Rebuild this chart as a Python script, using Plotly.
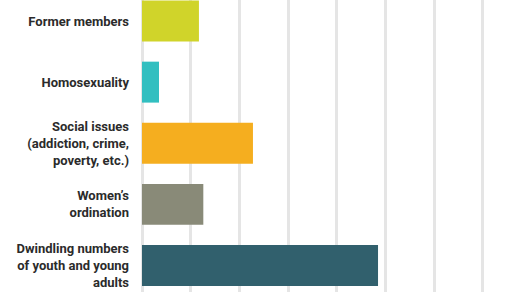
import plotly.graph_objects as go

categories = ["Former members", "Homosexuality",
              "Social issues<br>(addiction, crime,<br>poverty, etc.)",
              "Women’s<br>ordination",
              "Dwindling numbers<br>of youth and young<br>adults"]
values = [11.7, 3.5, 22.8, 12.6, 48.5]
colors = ["#d0d42a", "#32bfc0", "#f5ae1f", "#898a78", "#31606d"]

fig = go.Figure(go.Bar(
    x=values, y=categories, orientation="h",
    marker=dict(color=colors, line=dict(width=0)),
    hoverinfo="skip",
))

fig.update_layout(
    width=507, height=292,
    margin=dict(l=142, r=0, t=0, b=0, autoexpand=False),
    paper_bgcolor="white", plot_bgcolor="white",
    bargap=0.33,
    showlegend=False,
    font=dict(family="Roboto", size=13, color="#2b2b2b"),
)
fig.update_xaxes(
    range=[0, 75], dtick=10, tick0=0, automargin=False,
    showgrid=True, gridcolor="#e5e5e5", gridwidth=3,
    zeroline=True, zerolinecolor="#e5e5e5", zerolinewidth=3,
    showticklabels=False, ticks="", showline=False,
)
fig.update_yaxes(
    range=[4.434, -0.344], automargin=False,
    showgrid=False, zeroline=False, showline=False, ticks="",
    ticklabelstandoff=12,
    tickfont=dict(family="Roboto", size=13, color="#2b2b2b", weight="bold"),
)

fig.write_html(
    "out.html",
    config={"displayModeBar": False},
    post_script="document.body.style.margin='0px';document.body.style.overflow='hidden';",
)
